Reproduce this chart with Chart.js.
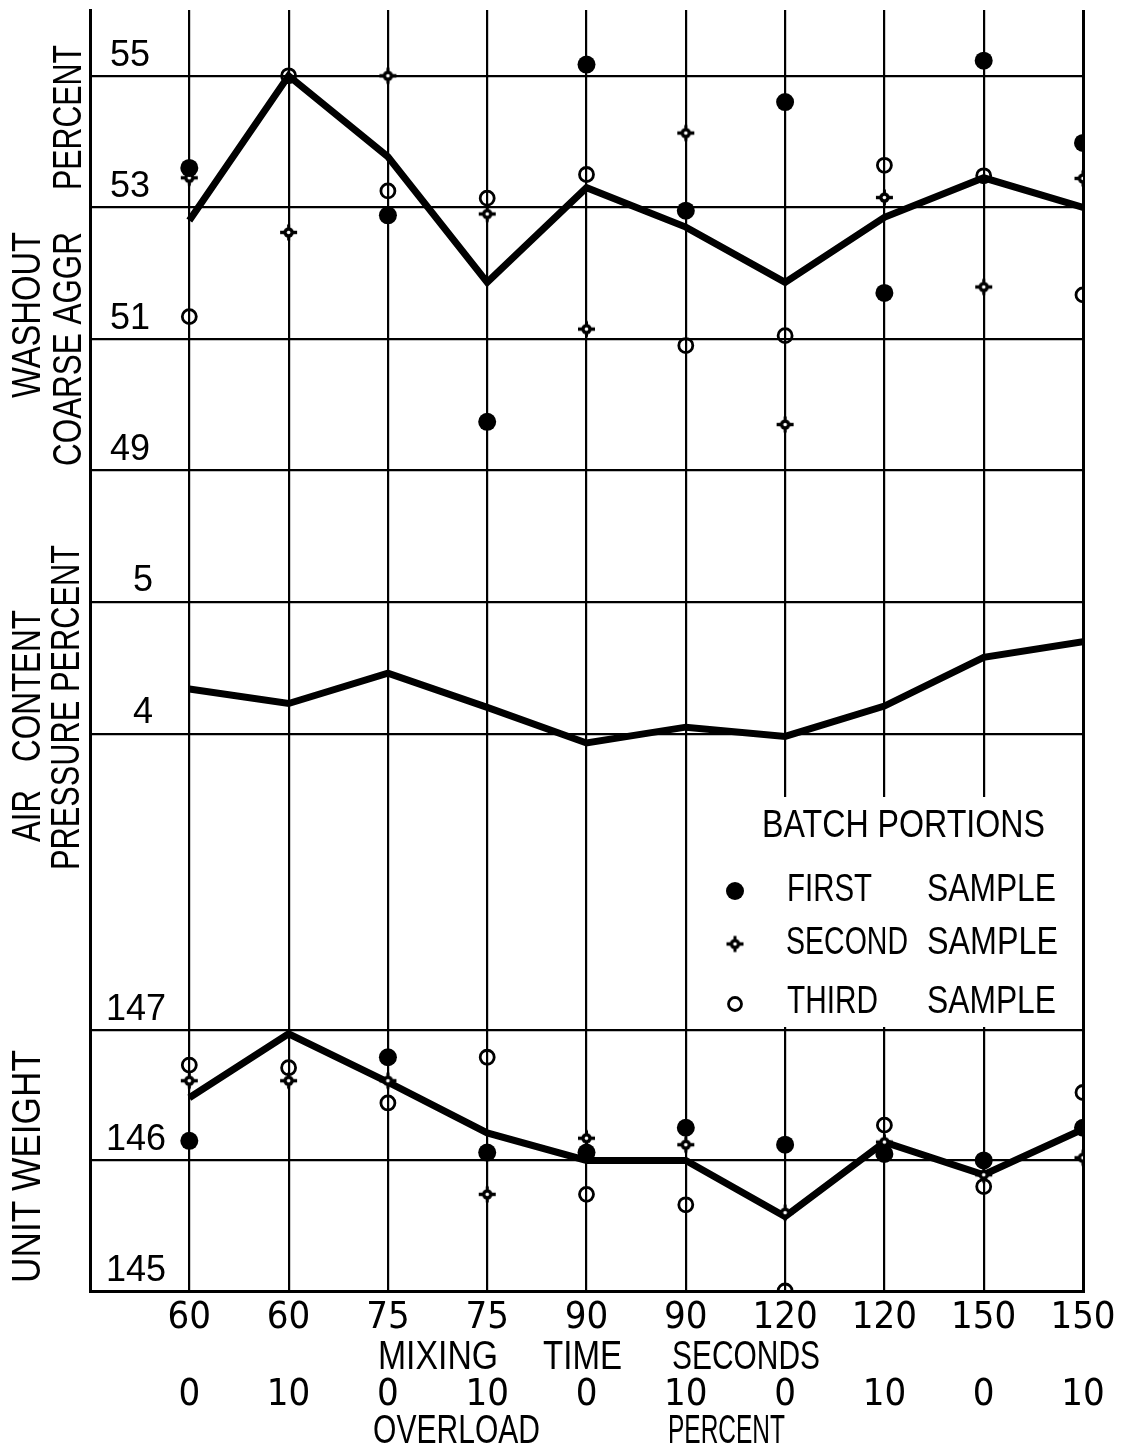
<!DOCTYPE html>
<html>
<head>
<meta charset="utf-8">
<title>Washout, air content and unit weight vs mixing time</title>
<script src="https://cdn.jsdelivr.net/npm/chart.js@4.4.1/dist/chart.umd.min.js"></script>
<style>
  html, body { margin: 0; padding: 0; background: #fff; }
</style>
</head>
<body>
<canvas id="chart" width="1126" height="1455"></canvas>
<script>
// categories (two rows of x labels)
const mixingTime = ['60', '60', '75', '75', '90', '90', '120', '120', '150', '150'];
const overload = ['0', '10', '0', '10', '0', '10', '0', '10', '0', '10'];

// washout coarse aggregate, percent
const washoutMean   = [52.8, 55.0, 53.77, 51.86, 53.3, 52.7, 51.86, 52.85, 53.45, 53.0];
const washoutFirst  = [53.6, null, 52.88, 49.74, 55.17, 52.95, 54.6, 51.7, 55.23, 53.98];
const washoutSecond = [53.45, 52.62, 55.0, 52.9, 51.15, 54.13, 49.7, 53.15, 51.79, 53.44];
const washoutThird  = [51.34, 55.0, 53.25, 53.14, 53.5, 50.9, 51.05, 53.64, 53.48, 51.67];

// air content (pressure), percent
const airMean = [4.34, 4.23, 4.46, 4.2, 3.93, 4.05, 3.98, 4.21, 4.58, 4.7];

// unit weight
const unitMean   = [146.48, 146.97, 146.6, 146.21, 146.0, 146.0, 145.57, 146.14, 145.89, 146.24];
const unitFirst  = [146.15, 147.5, 146.79, 146.06, 146.06, 146.25, 146.12, 146.05, 146.0, 146.25];
const unitSecond = [146.61, 146.61, 146.61, 145.74, 146.17, 146.12, 145.6, 146.14, 145.89, 146.02];
const unitThird  = [146.73, 146.71, 146.44, 146.79, 145.74, 145.66, 145.0, 146.27, 145.8, 146.52];

// tick labels
const washoutTickLabels = [49, 51, 53, 55];
const airTicks = [4, 5];
const unitTicks = [145, 146, 147];

const SANS = '"Liberation Sans", Arial, sans-serif';
const NARROW = '"Liberation Sans Narrow", "DejaVu Sans Condensed", "Liberation Sans", sans-serif';

const pts = arr => arr.map((v, i) => ({ x: i, y: v }));

function secondMarker() {
  const c = document.createElement('canvas');
  c.width = 19; c.height = 19;
  const g = c.getContext('2d');
  g.fillStyle = '#000';
  g.fillRect(1, 7.8, 17, 3.4);
  g.fillRect(8, 1.5, 3, 16);
  g.beginPath(); g.arc(9.5, 9.5, 5.2, 0, Math.PI * 2); g.fill();
  g.fillStyle = '#fff';
  g.beginPath(); g.arc(9.5, 9.5, 1.8, 0, Math.PI * 2); g.fill();
  return c;
}
const plusImg = secondMarker();

function meanLine(data, axis) {
  return {
    data: pts(data), yAxisID: axis, order: 2,
    borderColor: '#000', borderWidth: 7, pointRadius: 0,
    tension: 0, borderCapStyle: 'butt', borderJoinStyle: 'miter'
  };
}
function samples(data, axis, kind) {
  const ds = { data: pts(data), yAxisID: axis, order: 1, showLine: false, pointHoverRadius: 0 };
  if (kind === 'first') {
    Object.assign(ds, { pointStyle: 'circle', pointRadius: 9, pointBackgroundColor: '#000', pointBorderWidth: 0 });
  } else if (kind === 'second') {
    Object.assign(ds, { pointStyle: plusImg, pointRadius: 9 });
  } else {
    Object.assign(ds, { pointStyle: 'circle', pointRadius: 7, pointBackgroundColor: 'rgba(0,0,0,0)',
      pointBorderColor: '#000', pointBorderWidth: 2.8 });
  }
  return ds;
}

// text squeezed to a given width, horizontal or reading upwards
function fitText(ctx, text, x0, x1, cy, size) {
  ctx.save();
  ctx.font = size + 'px ' + SANS;
  const w = ctx.measureText(text).width;
  ctx.translate(x0, cy);
  ctx.scale((x1 - x0) / w, 1);
  ctx.textAlign = 'left';
  ctx.textBaseline = 'middle';
  ctx.fillStyle = '#000';
  ctx.fillText(text, 0, 0);
  ctx.restore();
}
function fitTextUp(ctx, text, cx, yBottom, yTop, size) {
  ctx.save();
  ctx.font = size + 'px ' + SANS;
  const w = ctx.measureText(text).width;
  ctx.translate(cx, yBottom);
  ctx.rotate(-Math.PI / 2);
  ctx.scale((yBottom - yTop) / w, 1);
  ctx.textAlign = 'left';
  ctx.textBaseline = 'middle';
  ctx.fillStyle = '#000';
  ctx.fillText(text, 0, 0);
  ctx.restore();
}

const annotations = {
  id: 'annotations',
  beforeDatasetsDraw(chart) {
    // white legend box hides the grid behind it
    const ctx = chart.ctx;
    ctx.save();
    ctx.fillStyle = '#fff';
    ctx.fillRect(702, 797, 379, 230);
    ctx.restore();
  },
  afterDraw(chart) {
    const ctx = chart.ctx;
    // axis titles
    fitTextUp(ctx, 'PERCENT', 70, 190, 45, 40);
    fitTextUp(ctx, 'COARSE AGGR', 70, 466, 232, 40);
    fitTextUp(ctx, 'WASHOUT', 29, 398, 232, 40);
    fitTextUp(ctx, 'PRESSURE PERCENT', 68, 870, 545, 40);
    fitTextUp(ctx, 'CONTENT', 29, 762, 610, 40);
    fitTextUp(ctx, 'AIR', 29, 842, 790, 40);
    fitTextUp(ctx, 'UNIT WEIGHT', 29, 1283, 1050, 40);

    // x axis captions
    fitText(ctx, 'MIXING', 378, 498, 1358, 40);
    fitText(ctx, 'TIME', 543, 622, 1358, 40);
    fitText(ctx, 'SECONDS', 672, 820, 1358, 40);
    fitText(ctx, 'OVERLOAD', 373, 540, 1432, 40);
    fitText(ctx, 'PERCENT', 668, 785, 1432, 40);

    // legend
    fitText(ctx, 'BATCH PORTIONS', 762, 1045, 827, 38);
    fitText(ctx, 'FIRST', 787, 872, 891, 38);
    fitText(ctx, 'SAMPLE', 927, 1056, 891, 38);
    fitText(ctx, 'SECOND', 786, 908, 944, 38);
    fitText(ctx, 'SAMPLE', 927, 1058, 944, 38);
    fitText(ctx, 'THIRD', 787, 878, 1003, 38);
    fitText(ctx, 'SAMPLE', 927, 1056, 1003, 38);

    ctx.save();
    ctx.fillStyle = '#000';
    ctx.beginPath(); ctx.arc(735, 891, 9, 0, Math.PI * 2); ctx.fill();
    ctx.drawImage(plusImg, 735 - 9.5, 944 - 9.5);
    ctx.strokeStyle = '#000'; ctx.lineWidth = 2.8;
    ctx.beginPath(); ctx.arc(735, 1004, 6.5, 0, Math.PI * 2); ctx.stroke();
    ctx.restore();
  }
};

const gridBase = { color: '#000', drawTicks: false };
const tickFont = { family: SANS, size: 36 };

const yCommon = {
  type: 'linear', position: 'left', stack: 'panels',
  border: { color: '#000', width: 3 },
  afterFit(s) { s.width = 90; s.paddingTop = 0; s.paddingBottom = 0; }
};

new Chart(document.getElementById('chart'), {
  type: 'line',
  data: {
    datasets: [
      samples(washoutFirst, 'yWash', 'first'),
      samples(washoutSecond, 'yWash', 'second'),
      samples(washoutThird, 'yWash', 'third'),
      meanLine(washoutMean, 'yWash'),
      meanLine(airMean, 'yAir'),
      samples(unitFirst, 'yUnit', 'first'),
      samples(unitSecond, 'yUnit', 'second'),
      samples(unitThird, 'yUnit', 'third'),
      meanLine(unitMean, 'yUnit')
    ]
  },
  options: {
    responsive: false,
    animation: false,
    events: [],
    layout: { padding: { top: 6, right: 43, left: 0, bottom: 0 } },
    plugins: { legend: { display: false }, tooltip: { enabled: false } },
    scales: {
      x: {
        type: 'linear', position: 'bottom', min: -1, max: 9,
        afterFit(s) { s.height = 164; s.paddingLeft = 0; s.paddingRight = 0; },
        border: { color: '#000', width: 3 },
        grid: Object.assign({}, gridBase, {
          lineWidth: c => (c.tick && (c.tick.value === -1 || c.tick.value === 9)) ? 3 : 2.2
        }),
        ticks: {
          stepSize: 1, autoSkip: false, maxRotation: 0, minRotation: 0, padding: 8, color: '#000',
          font: { family: NARROW, size: 38, lineHeight: 1.013 },
          callback: v => (v >= 0 && v < mixingTime.length) ? [mixingTime[v], '', overload[v]] : ''
        }
      },
      yWash: Object.assign({}, yCommon, {
        min: 49, max: 56, stackWeight: 462, weight: 3,
        grid: Object.assign({}, gridBase, { lineWidth: c => (c.tick && c.tick.value === 56) ? 3 : 2.2 }),
        ticks: {
          stepSize: 1, mirror: true, padding: 20, labelOffset: -20, color: '#000', font: tickFont,
          callback: v => washoutTickLabels.includes(v) ? String(v) : ''
        }
      }),
      yAir: Object.assign({}, yCommon, {
        min: 1.75, max: 6, stackWeight: 561, weight: 2,
        afterBuildTicks(s) { s.ticks = airTicks.map(v => ({ value: v })); },
        grid: Object.assign({}, gridBase, { lineWidth: 2.2 }),
        ticks: {
          mirror: true, padding: 43, labelOffset: -21, color: '#000', font: tickFont,
          callback: v => String(v)
        }
      }),
      yUnit: Object.assign({}, yCommon, {
        min: 145, max: 147, stackWeight: 262, weight: 1,
        afterBuildTicks(s) { s.ticks = unitTicks.map(v => ({ value: v })); },
        grid: Object.assign({}, gridBase, { lineWidth: 2.2 }),
        ticks: {
          mirror: true, padding: 16, labelOffset: -20, color: '#000', font: tickFont,
          callback: v => String(v)
        }
      })
    }
  },
  plugins: [annotations]
});
</script>
</body>
</html>
